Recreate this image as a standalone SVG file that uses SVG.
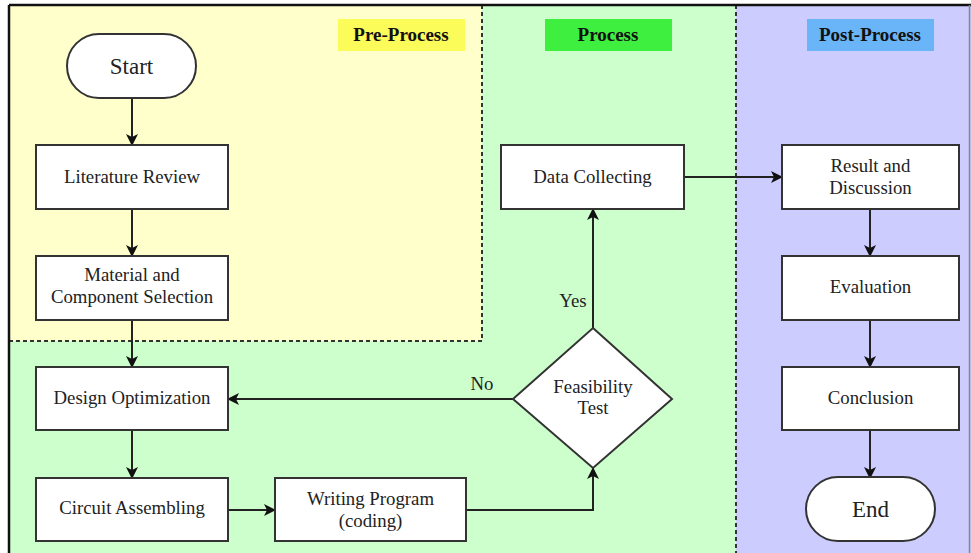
<svg xmlns="http://www.w3.org/2000/svg" width="971" height="553" viewBox="0 0 971 553">
<defs>
<marker id="ah" viewBox="0 0 12 12" refX="11" refY="6" markerWidth="12" markerHeight="12" markerUnits="userSpaceOnUse" orient="auto">
<path d="M0,0 L12,6 L0,12 L3,6 Z" fill="#111"/>
</marker>
</defs>
<style>
.box{fill:#fff;stroke:#333;stroke-width:2}
.t{font-family:"Liberation Serif","Times New Roman",serif;font-size:18.8px;fill:#222;text-anchor:middle}
.big{font-size:23px}
.lbl{font-family:"Liberation Serif","Times New Roman",serif;font-size:19px;font-weight:bold;fill:#111;text-anchor:middle}
.sep{stroke:#333;stroke-width:2;stroke-dasharray:4 3;fill:none}
.c{stroke:#222;stroke-width:2;fill:none;marker-end:url(#ah)}
</style>
<rect x="0" y="0" width="971" height="553" fill="#fff"/>
<g id="lanes">
<rect x="9" y="5" width="727" height="548" fill="#ccffcc"/>
<rect x="9" y="5" width="473" height="336" fill="#ffffcc"/>
<rect x="736" y="5" width="235" height="548" fill="#ccccff"/>
<path class="sep" d="M9,341 H482 V5"/>
<path class="sep" d="M736,5 V553"/>
<line x1="9" y1="5" x2="971" y2="5" stroke="#111" stroke-width="2.5"/>
<line x1="9" y1="5" x2="9" y2="553" stroke="#111" stroke-width="2.5"/>
<line x1="969.5" y1="5" x2="969.5" y2="553" stroke="#888" stroke-width="1.5"/>
</g>
<g id="label-pre"><rect x="338" y="19" width="127" height="32" fill="#fbfb5a"/><text class="lbl" x="401" y="41">Pre-Process</text></g>
<g id="label-process"><rect x="545" y="19" width="127" height="32" fill="#3fef3f"/><text class="lbl" x="608" y="41">Process</text></g>
<g id="label-post"><rect x="807" y="19" width="127" height="32" fill="#6ab4f8"/><text class="lbl" x="870" y="41">Post-Process</text></g>
<g id="connectors">
<line class="c" x1="132" y1="98" x2="132" y2="145"/>
<line class="c" x1="132" y1="209" x2="132" y2="256"/>
<line class="c" x1="132" y1="320" x2="132" y2="367"/>
<line class="c" x1="132" y1="430" x2="132" y2="478"/>
<line class="c" x1="228" y1="510" x2="275" y2="510"/>
<polyline class="c" points="466,510 593,510 593,468"/>
<line class="c" x1="513" y1="399" x2="228" y2="399"/>
<line class="c" x1="593" y1="328" x2="593" y2="209"/>
<line class="c" x1="684" y1="177" x2="782" y2="177"/>
<line class="c" x1="870" y1="209" x2="870" y2="256"/>
<line class="c" x1="870" y1="320" x2="870" y2="367"/>
<line class="c" x1="870" y1="430" x2="870" y2="478"/>
<text class="t" x="482" y="390">No</text>
<text class="t" x="573" y="307">Yes</text>
</g>
<g id="start"><rect class="box" x="67" y="34" width="129" height="64" rx="32" ry="32"/><text class="t big" x="131.5" y="74">Start</text></g>
<g id="literature"><rect class="box" x="36" y="145" width="192" height="64"/><text class="t" x="132" y="183">Literature Review</text></g>
<g id="material"><rect class="box" x="36" y="256" width="192" height="64"/><text class="t" x="132" y="281">Material and</text><text class="t" x="132" y="303">Component Selection</text></g>
<g id="design"><rect class="box" x="36" y="367" width="192" height="63"/><text class="t" x="132" y="404">Design Optimization</text></g>
<g id="circuit"><rect class="box" x="36" y="478" width="192" height="63"/><text class="t" x="132" y="514">Circuit Assembling</text></g>
<g id="writing"><rect class="box" x="275" y="478" width="191" height="63"/><text class="t" x="370.5" y="505">Writing Program</text><text class="t" x="370.5" y="527">(coding)</text></g>
<g id="feasibility"><polygon class="box" points="593,328 672,399 593,468 513,399"/><text class="t" x="593" y="393">Feasibility</text><text class="t" x="593" y="414">Test</text></g>
<g id="data"><rect class="box" x="501" y="145" width="183" height="64"/><text class="t" x="592.5" y="183">Data Collecting</text></g>
<g id="result"><rect class="box" x="782" y="145" width="177" height="64"/><text class="t" x="870.5" y="172">Result and</text><text class="t" x="870.5" y="194">Discussion</text></g>
<g id="evaluation"><rect class="box" x="782" y="256" width="177" height="64"/><text class="t" x="870.5" y="293">Evaluation</text></g>
<g id="conclusion"><rect class="box" x="782" y="367" width="177" height="63"/><text class="t" x="870.5" y="404">Conclusion</text></g>
<g id="end"><rect class="box" x="806" y="477" width="129" height="64" rx="32" ry="32"/><text class="t big" x="870.5" y="517">End</text></g>
</svg>
